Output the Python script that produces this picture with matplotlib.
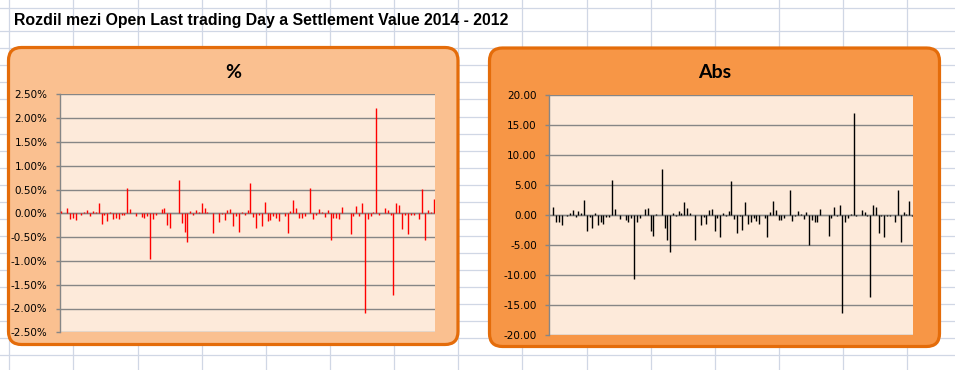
#!/usr/bin/env python3

import numpy as np
import matplotlib
matplotlib.use('Agg')
import matplotlib.pyplot as plt
from matplotlib.patches import FancyBboxPatch

plt.rcParams['axes.unicode_minus'] = False

title = "Rozdil mezi Open Last trading Day a Settlement Value 2014 - 2012"

# difference in percent
pct = [0.05, 0.0, 0.11, -0.12, -0.09, -0.14, 0.0, -0.03, 0.03, 0.07,
	-0.05, 0.05, 0.03, 0.22, -0.22, -0.03, -0.17, 0.03, -0.13, -0.09,
	-0.13, -0.03, -0.03, 0.53, 0.09, 0.0, -0.05, 0.0, -0.07, -0.09,
	-0.05, -0.97, -0.12, -0.03, 0.0, 0.09, 0.11, -0.24, -0.30, 0.0,
	0.0, 0.69, -0.20, -0.40, -0.61, 0.05, -0.03, 0.07, 0.03, 0.22,
	0.11, 0.03, 0.0, -0.42, 0.0, -0.18, -0.02, -0.15, 0.07, 0.09,
	-0.26, -0.05, -0.39, 0.03, -0.03, 0.07, 0.63, -0.07, -0.30, -0.03,
	-0.26, 0.24, -0.17, -0.14, -0.05, -0.09, -0.17, 0.0, -0.05, -0.42,
	0.05, 0.28, 0.11, -0.09, -0.09, -0.05, 0.0, 0.53, -0.11, -0.03,
	0.09, 0.03, -0.07, 0.07, -0.57, -0.09, -0.09, -0.13, 0.13, 0.0,
	0.0, -0.44, -0.05, 0.15, -0.05, 0.22, -2.09, -0.13, -0.05, 0.03,
	2.22, -0.03, 0.0, 0.11, 0.07, -0.03, -1.72, 0.22, 0.17, -0.34,
	-0.03, -0.44, -0.03, -0.03, 0.0, -0.13, 0.51, -0.57, 0.07, 0.03,
	0.30]

# absolute difference
absd = [0.0, 1.4, -1.2, -1.1, -1.6, 0.0, -0.2, 0.4, 0.9, -0.3,
	0.7, 0.4, 2.6, -2.6, -0.3, -2.1, 0.4, -1.6, -1.1, -1.4,
	-0.3, -0.3, 5.9, 1.1, 0.0, -0.6, 0.0, -0.8, -1.1, -0.4,
	-10.7, -1.2, -0.4, 0.0, 1.1, 1.2, -2.6, -3.4, 0.2, 0.0,
	7.7, -2.2, -4.2, -6.2, 0.4, -0.2, 0.7, 0.4, 2.2, 1.2,
	0.4, 0.0, -4.2, 0.0, -1.7, -0.3, -1.5, 0.9, 1.0, -2.6,
	-0.4, -3.7, 0.4, -0.2, 0.7, 5.7, -0.6, -2.9, -0.2, -2.4,
	2.2, -1.5, -1.2, -0.4, -0.9, -1.5, 0.0, -0.4, -3.7, 0.6,
	2.4, 0.9, -0.8, -0.8, -0.4, 0.0, 4.2, -0.9, -0.2, 0.7,
	0.2, -0.6, 0.6, -4.9, -0.8, -1.1, -1.1, 1.1, 0.0, 0.0,
	-3.4, -0.4, 1.4, -0.2, 1.7, -16.3, -1.1, -0.4, 0.2, 17.1,
	-0.2, 0.0, 0.9, 0.6, -0.2, -13.7, 1.7, 1.4, -2.9, -0.2,
	-3.7, -0.2, -0.2, 0.0, -1.1, 4.2, -4.5, 0.6, 0.2, 2.4,
	-0.2]

pct_ticks = np.arange(-2.5, 2.51, 0.5)
abs_ticks = np.arange(-20, 20.1, 5)

W, H = 955, 370
fig = plt.figure(figsize=(W / 100, H / 100), dpi=100)
fig.patch.set_facecolor('white')

# spreadsheet background, in pixel coordinates
bg = fig.add_axes([0, 0, 1, 1])
bg.set_xlim(0, W)
bg.set_ylim(H, 0)
bg.axis('off')
for x in np.arange(9.2, W, 64.15) :
	bg.axvline(x, color='#d0d7e5', lw=0.9, zorder=0)
bg.axhline(8.3, color='#d0d7e5', lw=0.9, zorder=0)
for y in np.arange(31.2, H, 17.06) :
	bg.axhline(y, color='#d0d7e5', lw=0.9, zorder=0)

bg.text(14, 20, title, fontsize=11.4, fontweight='bold', family='Liberation Sans',
	ha='left', va='center', color='black')

def frame(x0, y0, x1, y1, face) :
	p = FancyBboxPatch((x0, y0), x1 - x0, y1 - y0,
		boxstyle="round,pad=0,rounding_size=13",
		facecolor=face, edgecolor='#e46c0a', lw=2.3, zorder=2)
	bg.add_patch(p)

frame(8.5, 47.5, 458, 344.5, '#fac090')
frame(489.5, 48, 939.5, 346.5, '#f79646')

bg.text(233, 72, '%', fontsize=14, fontweight='bold', family='Lato',
	ha='center', va='center', zorder=3)
bg.text(715, 73, 'Abs', fontsize=14, fontweight='bold', family='Lato',
	ha='center', va='center', zorder=3)

def panel(rect, vals, ticks, fmt, color) :
	l, t, r, b = rect
	ax = fig.add_axes([l / W, 1 - b / H, (r - l) / W, (b - t) / H])
	ax.set_facecolor('#fdeada')
	n = len(vals)
	ax.vlines(np.arange(n), 0, vals, color=color, lw=1.0, zorder=3)
	ax.set_xlim(-0.5, n - 0.5)
	ax.set_ylim(ticks[0], ticks[-1])
	ax.set_yticks(ticks)
	ax.set_yticklabels([fmt(v) for v in ticks], fontsize=7.5, family='DejaVu Sans')
	ax.set_xticks([])
	ax.grid(axis='y', color='#868686', lw=1.0, zorder=1)
	ax.set_axisbelow(True)
	for s in ['top', 'right', 'bottom'] :
		ax.spines[s].set_visible(False)
	ax.spines['left'].set_color('#868686')
	ax.spines['left'].set_linewidth(1.0)
	ax.tick_params(axis='y', direction='out', length=3, width=1.0,
		color='#868686', pad=6)
	ax.axhline(0, color='#868686', lw=1.0, zorder=2)
	return ax

panel((60, 94.3, 435, 332.3), pct, pct_ticks,
	lambda v : ('-' if v < -1e-9 else '') + '%.2f%%' % abs(v), 'red')
panel((549.3, 95.3, 913.3, 335), absd, abs_ticks,
	lambda v : ('-' if v < -1e-9 else '') + '%.2f' % abs(v), 'black')

fig.savefig('out.png', dpi=100)
